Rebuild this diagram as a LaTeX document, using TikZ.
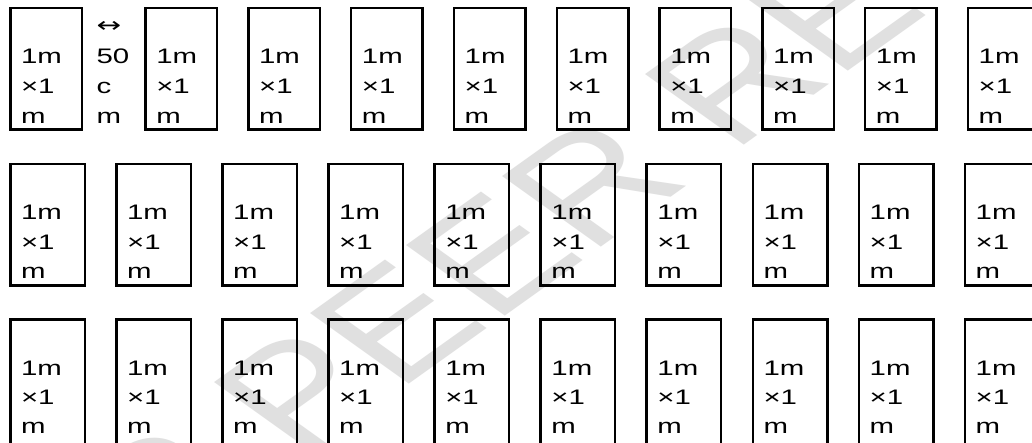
\documentclass[tikz,border=0pt]{standalone}
\usepackage{fontspec}
\setmainfont{Liberation Sans}
\newfontfamily\boxfont[FakeStretch=1.4]{Liberation Sans}
\newfontfamily\arrowfont[FakeStretch=1.4]{DejaVu Sans}
\begin{document}
\begin{tikzpicture}[x=1pt,y=-1pt,
  cellA/.style={draw=black, line width=2.5pt, rectangle, anchor=north west, inner sep=0pt, outer sep=0pt, minimum width=71.5pt, minimum height=121.5pt},
  cellB/.style={draw=black, line width=2.5pt, rectangle, anchor=north west, inner sep=0pt, outer sep=0pt, minimum width=74.5pt, minimum height=121.5pt},
  cellC/.style={draw=black, line width=2.5pt, rectangle, anchor=north west, inner sep=0pt, outer sep=0pt, minimum width=74.5pt, minimum height=140pt},
  txt/.style={anchor=base west, inner sep=0pt, outer sep=0pt, text=black, font=\boxfont\fontsize{21}{30}\selectfont},
  arr/.style={anchor=base west, inner sep=0pt, outer sep=0pt, text=black, font=\arrowfont\fontsize{21}{30}\selectfont},
  wm/.style={rotate=45, transform shape, inner sep=0pt, text=black!12, font=\fontsize{145}{145}\selectfont}]
\useasboundingbox (0,0) rectangle (1032,442);
\clip (0,0) rectangle (1032,442);
\fill[white] (0,0) rectangle (1032,442);
% watermark
\begin{scope}[xscale=1.4]
\node[wm] (wm) at (414,192) {FOR PEER REVIEW};
\end{scope}
% row 1
\node[cellA] (r1b0) at (10.25,7.95) {};
\node[txt] (r1b0a) at (21,63.2) {1m};
\node[txt] (r1b0b) at (21,93.2) {×1};
\node[txt] (r1b0c) at (21,123.2) {m};
\node[arr] (lab1) at (96.5,32.5) {↔};
\node[txt] (lab2) at (96.5,63.2) {50};
\node[txt] (lab3) at (96.5,93.2) {c};
\node[txt] (lab4) at (96.5,123.2) {m};
\foreach \i in {1,...,9} {
  \pgfmathsetmacro\L{144.3+(\i-1)*102.8}
  \node[cellA] (r1b\i) at (\L+1.25,7.95) {};
  \node[txt] (r1b\i a) at (\L+12,63.2) {1m};
  \node[txt] (r1b\i b) at (\L+12,93.2) {×1};
  \node[txt] (r1b\i c) at (\L+12,123.2) {m};
}
% rows 2 and 3
\foreach \i in {0,...,9} {
  \pgfmathsetmacro\L{9+\i*106.08}
  \node[cellB] (r2b\i) at (\L+1.25,163.95) {};
  \node[txt] (r2b\i a) at (\L+12,219.5) {1m};
  \node[txt] (r2b\i b) at (\L+12,249.3) {×1};
  \node[txt] (r2b\i c) at (\L+12,278.5) {m};
  \node[cellC] (r3b\i) at (\L+1.25,319.55) {};
  \node[txt] (r3b\i a) at (\L+12,375.2) {1m};
  \node[txt] (r3b\i b) at (\L+12,404) {×1};
  \node[txt] (r3b\i c) at (\L+12,433) {m};
}
\end{tikzpicture}
\end{document}
